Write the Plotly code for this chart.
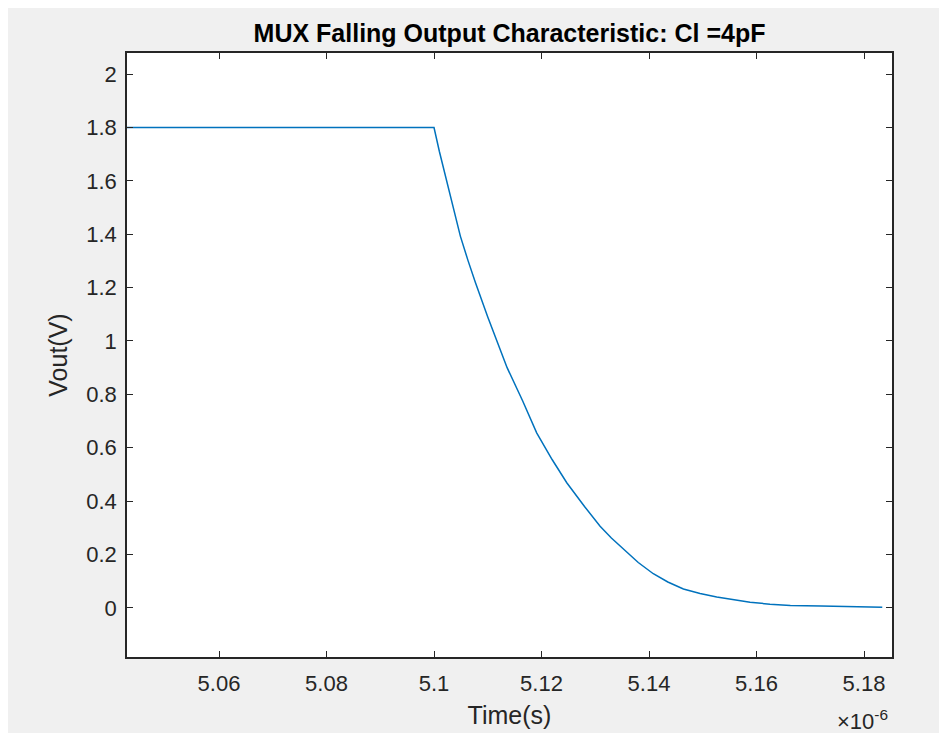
import plotly.graph_objects as go

# time in units of 1e-6 s, output voltage in V
time_us = [5.040, 5.100, 5.1010, 5.1021, 5.1035, 5.1049, 5.1063, 5.1077,
           5.1100, 5.1123, 5.1136, 5.1165, 5.1191, 5.1220, 5.1247, 5.1280,
           5.1309, 5.1330, 5.1353, 5.1380, 5.1408, 5.1435, 5.1464, 5.1495,
           5.1526, 5.1558, 5.1588, 5.1625, 5.1663, 5.1720, 5.1775, 5.1834]
vout = [1.80, 1.80, 1.71, 1.619, 1.503, 1.393, 1.303, 1.219,
        1.09, 0.969, 0.900, 0.775, 0.656, 0.555, 0.469, 0.380,
        0.306, 0.262, 0.220, 0.170, 0.128, 0.097, 0.071, 0.054,
        0.041, 0.030, 0.021, 0.014, 0.0086, 0.007, 0.005, 0.002]

x_ticks = [5.06, 5.08, 5.10, 5.12, 5.14, 5.16, 5.18]
y_ticks = [0, 0.2, 0.4, 0.6, 0.8, 1, 1.2, 1.4, 1.6, 1.8, 2]

# page body has an 8px margin, so the figure starts at (8, 8)
W, H = 939, 725
L, R, T, B = 119, 55, 45, 76
pw, ph = W - L - R, H - T - B

fig = go.Figure()
fig.add_trace(go.Scatter(x=time_us, y=vout, mode='lines',
                         line=dict(color='#0072BD', width=1.5),
                         showlegend=False, hoverinfo='skip'))

axis_common = dict(showline=True, linecolor='#262626', linewidth=1.5,
                   mirror='ticks', ticks='inside', ticklen=6, tickwidth=1,
                   tickcolor='#262626', showgrid=False, zeroline=False, automargin=False,
                   tickfont=dict(family='Liberation Sans, Arial', size=22, color='#262626'))

fig.update_xaxes(range=[5.04288, 5.18521], tickvals=x_ticks,
                 ticktext=[('%g' % v) for v in x_ticks],
                 ticklabelstandoff=6,
                 title=dict(text='Time(s)', standoff=11,
                            font=dict(family='Liberation Sans, Arial', size=25, color='#262626')),
                 **axis_common)
fig.update_yaxes(range=[-0.184, 2.079], tickvals=y_ticks,
                 ticktext=[('%g' % v) for v in y_ticks],
                 ticklabelstandoff=4,
                 title=dict(text='Vout(V)', standoff=12,
                            font=dict(family='Liberation Sans, Arial', size=25, color='#262626')),
                 **axis_common)

fig.add_annotation(xref='paper', yref='paper', x=(854 - L) / pw, y=-(712 - T - ph) / ph,
                   text='\u00d710<sup>-6</sup>', showarrow=False,
                   xanchor='center', yanchor='middle',
                   font=dict(family='Liberation Sans, Arial', size=22, color='#262626'))

fig.update_layout(
    width=W, height=H,
    margin=dict(l=L, r=R, t=T, b=B, pad=0),
    paper_bgcolor='#f0f0f0', plot_bgcolor='white',
    title=dict(text='<b>MUX Falling Output Characteristic: Cl =4pF</b>',
               x=(L + pw / 2) / W, xanchor='center', y=1 - 25 / H, yanchor='middle',
               font=dict(family='Liberation Sans, Arial', size=25, color='black')),
)

fig.write_html("out.html")
